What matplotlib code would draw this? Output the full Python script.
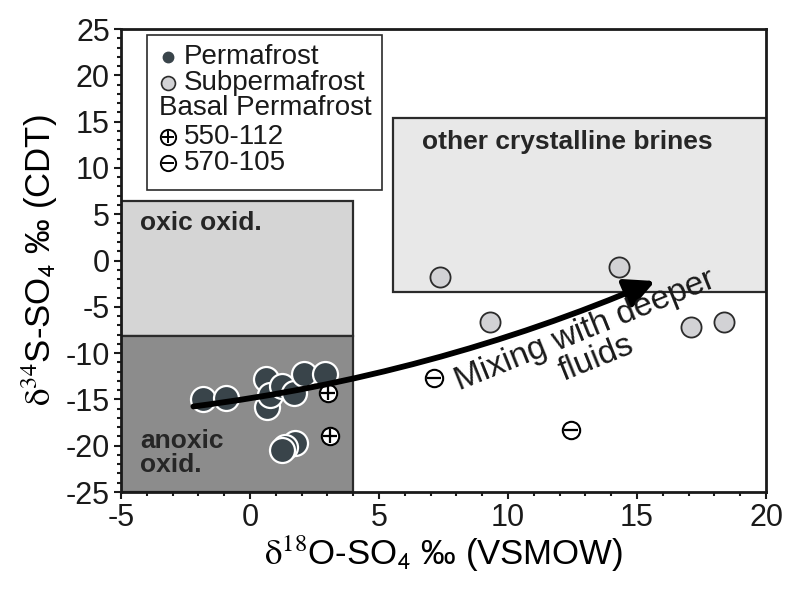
import numpy as np
import matplotlib
matplotlib.use("Agg")
import matplotlib.pyplot as plt
from matplotlib.patches import Rectangle, FancyArrowPatch

plt.rcParams['font.family'] = ['Liberation Sans', 'DejaVu Sans']
plt.rcParams['mathtext.fontset'] = 'stix'
plt.rcParams['axes.unicode_minus'] = False

# sulfate isotope data (d18O, d34S)
perma_x = [-1.81, -0.92, 0.62, 0.66, 0.78, 1.24, 1.69, 2.10, 2.92, 1.75, 1.37, 1.24]
perma_y = [-15.0, -14.8, -12.8, -15.8, -14.5, -13.6, -14.3, -12.3, -12.3, -19.7, -20.1, -20.5]
subperma_x = [7.36, 14.3, 9.32, 17.09, 18.36]
subperma_y = [-1.75, -0.67, -6.6, -7.2, -6.6]
bp550_x = [3.02, 3.1]
bp550_y = [-14.3, -19.0]
bp570_x = [7.13, 12.43]
bp570_y = [-12.7, -18.3]

# reference fields: (x0, x1, y0, y1)
oxic_box = (-5, 4, -8.2, 6.4)
anoxic_box = (-5, 4, -25, -8.2)
brine_box = (5.55, 20, -3.4, 15.4)

mix_start = (-2.3, -15.8)
mix_end = (15.8, -2.1)

dark = '#39444a'
edge = '#2b2b2b'

fig = plt.figure(figsize=(7.92, 5.91), dpi=100)
ax = fig.add_axes([0.1528, 0.1675, 0.8144, 0.7834])
ax.set_xlim(-5, 20)
ax.set_ylim(-25, 25)


def field(box, color):
    x0, x1, y0, y1 = box
    ax.add_patch(Rectangle((x0, y0), x1 - x0, y1 - y0, facecolor=color,
                           edgecolor=edge, lw=1.6, zorder=1))


field(oxic_box, '#d5d5d5')
field(anoxic_box, '#8c8c8c')
field(brine_box, '#e8e8e8')

ax.text(-4.26, 4.05, 'oxic oxid.', fontsize=19, fontweight='bold',
        color='#262626', va='center', ha='left', zorder=2)
ax.text(-4.26, -20.8, 'anoxic\noxid.', fontsize=19, fontweight='bold',
        color='#262626', va='center', ha='left', linespacing=1.0, zorder=2)
ax.text(6.67, 12.83, 'other crystalline brines', fontsize=19, fontweight='bold',
        color='#262626', va='center', ha='left', zorder=2)

ax.plot(perma_x, perma_y, 'o', ms=18, mfc=dark, mec='white', mew=1.6, zorder=3)
ax.plot(subperma_x, subperma_y, 'o', ms=14.5, mfc='#d2d2d5', mec=edge, mew=1.3, zorder=3)
ax.plot(bp550_x, bp550_y, 'o', ms=12.5, mfc='white', mec='black', mew=1.5, zorder=4)
ax.plot(bp550_x, bp550_y, '+', ms=10, mec='black', mew=1.6, zorder=5)
ax.plot(bp570_x, bp570_y, 'o', ms=12.5, mfc='white', mec='black', mew=1.5, zorder=4)
ax.plot(bp570_x, bp570_y, '_', ms=10, mec='black', mew=1.6, zorder=5)

arrow = FancyArrowPatch(mix_start, mix_end, connectionstyle='arc3,rad=0.07',
                        arrowstyle='-|>,head_length=0.8,head_width=0.4',
                        mutation_scale=22, lw=4.2, color='black', zorder=6)
ax.add_patch(arrow)
ax.text(13.2, -9.1, 'Mixing with deeper\nfluids', fontsize=24, rotation=22,
        rotation_mode='anchor', ha='center', va='center', multialignment='center',
        linespacing=0.95, color='#1a1a1a', zorder=6)

# key box
ax.add_patch(Rectangle((-4.0, 7.6), 9.1, 16.75, facecolor='white',
                       edgecolor=edge, lw=1.2, zorder=7))
ax.plot([-3.18], [21.98], 'o', ms=7.5, mfc=dark, mec=dark, zorder=8)
ax.plot([-3.18], [19.17], 'o', ms=10, mfc='#d2d2d5', mec=edge, mew=1.2, zorder=8)
ax.plot([-3.18, -3.18], [13.34, 10.53], 'o', ms=11, mfc='white', mec='black', mew=1.4, zorder=8)
ax.plot([-3.18], [13.34], '+', ms=9, mec='black', mew=1.4, zorder=9)
ax.plot([-3.18], [10.53], '_', ms=9, mec='black', mew=1.4, zorder=9)
key_kw = dict(fontsize=20, va='center', ha='left', color='#1a1a1a', zorder=9)
ax.text(-2.55, 21.98, 'Permafrost', **key_kw)
ax.text(-2.55, 19.17, 'Subpermafrost', **key_kw)
ax.text(-3.52, 16.47, 'Basal Permafrost', **key_kw)
ax.text(-2.55, 13.34, '550-112', **key_kw)
ax.text(-2.55, 10.53, '570-105', **key_kw)

ax.set_xticks(np.arange(-5, 21, 5))
ax.set_yticks(np.arange(-25, 26, 5))
ax.set_xticks(np.arange(-5, 21, 1), minor=True)
ax.set_yticks(np.arange(-25, 26, 1), minor=True)
ax.tick_params(which='both', direction='out', top=False, right=False,
               width=1.5, colors='#1a1a1a')
ax.tick_params(which='major', length=5, labelsize=22, pad=3)
ax.tick_params(which='minor', length=3)
for s in ax.spines.values():
    s.set_linewidth(2)
    s.set_color('#1a1a1a')

ax.set_xlabel(r'$\mathrm{δ}^{18}$O-SO$_{\mathsf{4}}$ ‰ (VSMOW)', fontsize=25, labelpad=0)
ax.set_ylabel(r'$\mathrm{δ}^{34}$S-SO$_{\mathsf{4}}$ ‰ (CDT)', fontsize=25, labelpad=4)

fig.savefig('out.png', dpi=100)
